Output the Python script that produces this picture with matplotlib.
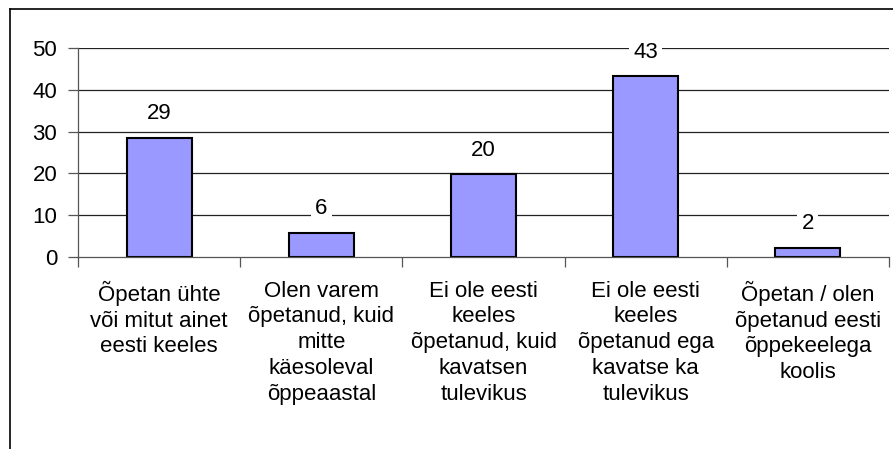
import matplotlib.pyplot as plt
from matplotlib.lines import Line2D
import numpy as np

plt.rcParams['font.family'] = ['Liberation Sans', 'DejaVu Sans']

# data
categories = [
    "Õpetan ühte\nvõi mitut ainet\neesti keeles",
    "Olen varem\nõpetanud, kuid\nmitte\nkäesoleval\nõppeaastal",
    "Ei ole eesti\nkeeles\nõpetanud, kuid\nkavatsen\ntulevikus",
    "Ei ole eesti\nkeeles\nõpetanud ega\nkavatse ka\ntulevikus",
    "Õpetan / olen\nõpetanud eesti\nõppekeelega\nkoolis",
]
values = [28.5, 5.8, 19.8, 43.2, 2.2]
value_labels = ["29", "6", "20", "43", "2"]
yticks = [0, 10, 20, 30, 40, 50]

fig = plt.figure(figsize=(8.93, 4.49), dpi=100)
ax = fig.add_axes([78 / 893, 1 - 257 / 449, (889 - 78) / 893, (257 - 48) / 449])

x = np.arange(len(categories))
ax.bar(x, values, width=0.4, color="#9999FF", edgecolor="black", linewidth=1.5, zorder=3)

# gridlines
for t in yticks[1:]:
    ax.axhline(t, color="#222222", linewidth=0.9, zorder=1)

# value labels, white box hides the gridline behind them
for xi, v, lab in zip(x, values, value_labels):
    ax.annotate(lab, (xi, v), xytext=(0, 24), textcoords="offset pixels",
                ha="center", va="center", fontsize=16,
                bbox=dict(facecolor="white", edgecolor="none", pad=3), zorder=4)

ax.set_xlim(-0.5, len(categories) - 0.5)
ax.set_ylim(0, 50)
ax.set_yticks(yticks)
ax.tick_params(axis="y", labelsize=16, length=7, width=0.9, color="#555555", pad=8)

ax.set_xticks(x)
ax.set_xticklabels(categories, fontsize=16, linespacing=1.3, va="top")
ax.tick_params(axis="x", which="major", length=0, pad=17)
ax.set_xticks(np.arange(len(categories) + 1) - 0.5, minor=True)
ax.tick_params(axis="x", which="minor", length=7, width=0.9, color="#555555", direction="out")

for s in ["top", "right"]:
    ax.spines[s].set_visible(False)
for s in ["left", "bottom"]:
    ax.spines[s].set_color("#555555")
    ax.spines[s].set_linewidth(0.9)
    ax.spines[s].set_zorder(5)

# outer chart border (cropped at right and bottom)
fig.add_artist(Line2D([10 / 893, 1], [1 - 9 / 449, 1 - 9 / 449], color="black", linewidth=1.2))
fig.add_artist(Line2D([10 / 893, 10 / 893], [0, 1 - 9 / 449], color="black", linewidth=1.2))

fig.savefig("out.png", dpi=100)
